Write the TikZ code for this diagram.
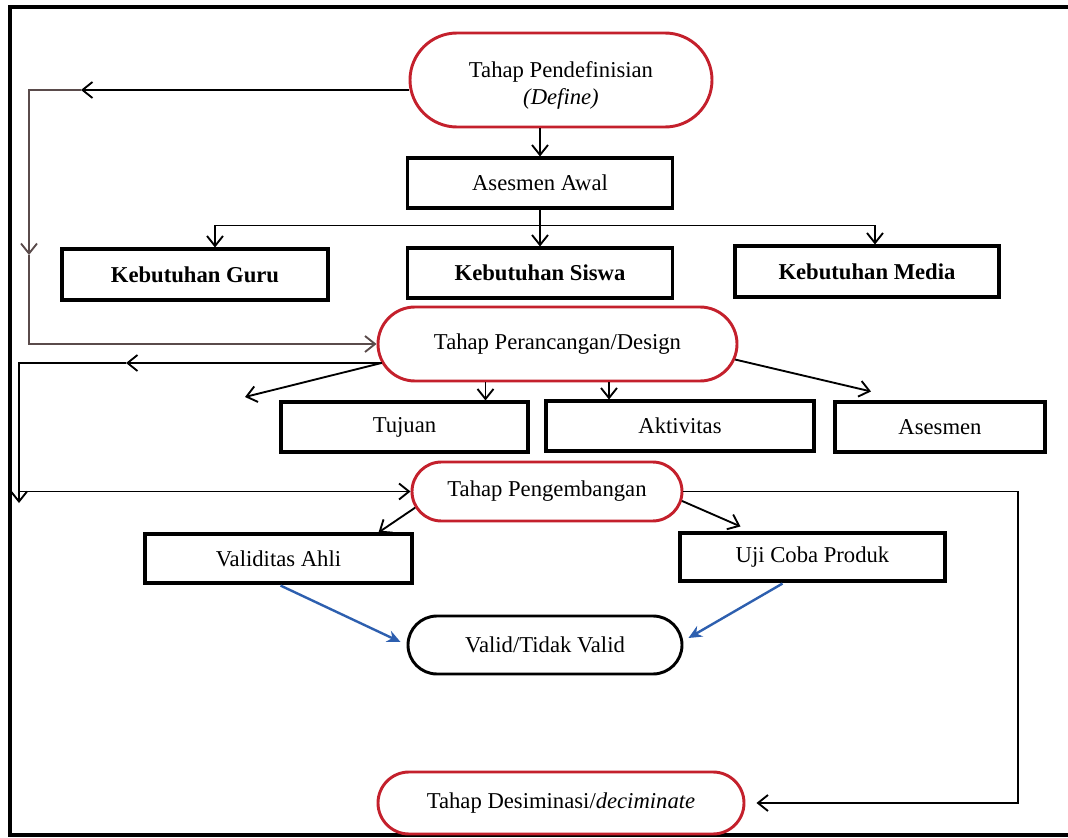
\documentclass[tikz,border=0pt]{standalone}
\usepackage{fontspec}
\setmainfont{Liberation Serif}
\usetikzlibrary{arrows.meta,shapes.misc,calc}
\definecolor{pillred}{RGB}{196,32,44}
\definecolor{arrblue}{RGB}{45,95,175}
\definecolor{loopgray}{RGB}{90,75,75}
\tikzset{
  wd/.style={minimum width={#1*0.75pt}},
  ht/.style={minimum height={#1*0.75pt}},
  box/.style={draw, line width=2.3pt, rectangle, inner sep=0pt, fill=white},
  pill/.style={draw=pillred, rounded rectangle, line width=2.2pt, inner sep=0pt, fill=white},
  bpill/.style={draw=black, rounded rectangle, line width=2.2pt, inner sep=0pt, fill=white},
  conn/.style={line width=1.4pt},
  arr/.style={conn, -{Straight Barb[length=7.5pt,width=12pt]}},
  looparr/.style={arr, draw=loopgray},
  blu/.style={draw=arrblue, line width=1.8pt, -{Stealth[length=10pt,width=9pt]}},
}
\begin{document}
\begin{tikzpicture}[x=0.75pt,y=-0.75pt,font=\fontsize{17}{20.5}\selectfont]
\useasboundingbox (0,0) rectangle (1068,838);
\fill[white] (0,0) rectangle (1068,838);
% frame
\draw[line width=2.4pt] (1068,7) -- (10,7) -- (10,835) -- (1068,835);
\draw[line width=3.2pt] (10,7) -- (10,835);

% nodes
\node[pill, wd=302, ht=94, align=center] (define) at (561,80) {\rule{0pt}{20pt}Tahap Pendefinisian\\\textit{(Define)}};
\node[box, wd=265, ht=50] (awal) at (540,183) {Asesmen Awal};
\node[box, wd=266, ht=51, font=\fontsize{17}{20}\selectfont\bfseries] (guru) at (195,274.5) {Kebutuhan Guru};
\node[box, wd=265, ht=50, font=\fontsize{17}{20}\selectfont\bfseries] (siswa) at (540,273) {Kebutuhan Siswa};
\node[box, wd=264, ht=51, font=\fontsize{17}{20}\selectfont\bfseries] (media) at (867,271.5) {Kebutuhan Media};
\node[pill, wd=359, ht=74] (rancang) at (557.5,344) {Tahap Perancangan/Design};
\node[box, wd=247, ht=50] (tujuan) at (404.5,427) {Tujuan};
\node[box, wd=268, ht=50] (aktivitas) at (680,426) {Aktivitas};
\node[box, wd=210, ht=50] (asesmen) at (940,427) {Asesmen};
\node[pill, wd=270, ht=59] (kembang) at (547,491.5) {Tahap Pengembangan};
\node[box, wd=267, ht=49] (validitas) at (278.5,558.5) {Validitas Ahli};
\node[box, wd=265, ht=48] (uji) at (812.5,557) {Uji Coba Produk};
\node[bpill, wd=274, ht=58] (valid) at (545,645) {Valid/Tidak Valid};
\node[pill, wd=366, ht=62] (desiminasi) at (561,803) {Tahap Desiminasi/\textit{deciminate}};

% define -> asesmen awal -> kebutuhan
\draw[arr] (define.south -| awal) -- (awal.north);
\draw[arr] (awal.south) -- (siswa.north);
\coordinate (br) at ($(awal.south)+(0,16)$);
\coordinate (guruin) at ($(guru.north)+(20,0)$);
\coordinate (mediain) at ($(media.north)+(8,0)$);
\draw[arr] (br) -| (guruin);
\draw[arr] (br) -| (mediain);

% loop from define to rancang
\coordinate (dl1) at (29,90);
\coordinate (dlA) at (81,90);
\coordinate (dlB) at (29,255);
\coordinate (dlC) at (29,344);
\draw[arr] (define.west |- dl1) -- (dlA);
\draw[looparr] (dlA) -- (dl1) -- (dlB);
\draw[looparr] (dlB) -- (dlC) -- (rancang.west);

% rancang branches
\coordinate (rs) at ($(rancang.west)+(5,19)$);
\coordinate (rl1) at (19,363);
\coordinate (rlA) at (126,363);
\coordinate (rlB) at (19,503);
\coordinate (rlC) at (rl1 |- kembang.west);
\coordinate (tl) at (245,397);
\draw[arr] (rs) -- (rlA);
\draw[arr] (rlA) -- (rl1) -- (rlB);
\draw[arr] (rlC) -- (kembang.west);
\draw[arr] (rs) -- (tl);
\coordinate (tujin) at ($(tujuan.north)+(81,0)$);
\coordinate (aktin) at ($(aktivitas.north)+(-71,0)$);
\draw[arr] (tujin |- rancang.south) -- (tujin);
\draw[arr] (aktin |- rancang.south) -- (aktin);
\coordinate (asesin) at ($(asesmen.north)+(-69,-9)$);
\draw[arr] (rancang.-5.5) -- (asesin);

% pengembangan branches
\coordinate (valin) at ($(validitas.north)+(100,0)$);
\coordinate (ujiin) at ($(uji.north)+(-72,-5)$);
\draw[arr] (kembang.187) -- (valin);
\draw[arr] (kembang.-4.5) -- (ujiin);
\coordinate (kr) at (1018,491.5);
\coordinate (desin) at ($(desiminasi.east)+(11,0)$);
\draw[arr] (kembang.east) -- (kr) |- (desin);

% blue arrows to valid
\coordinate (b1s) at ($(validitas.south)+(2,1)$);
\coordinate (b1e) at ($(valid.west)+(-6,-3)$);
\coordinate (b2s) at ($(uji.south)+(-30,1)$);
\coordinate (b2e) at ($(valid.east)+(5,-7)$);
\draw[blu] (b1s) -- (b1e);
\draw[blu] (b2s) -- (b2e);
\end{tikzpicture}
\end{document}
